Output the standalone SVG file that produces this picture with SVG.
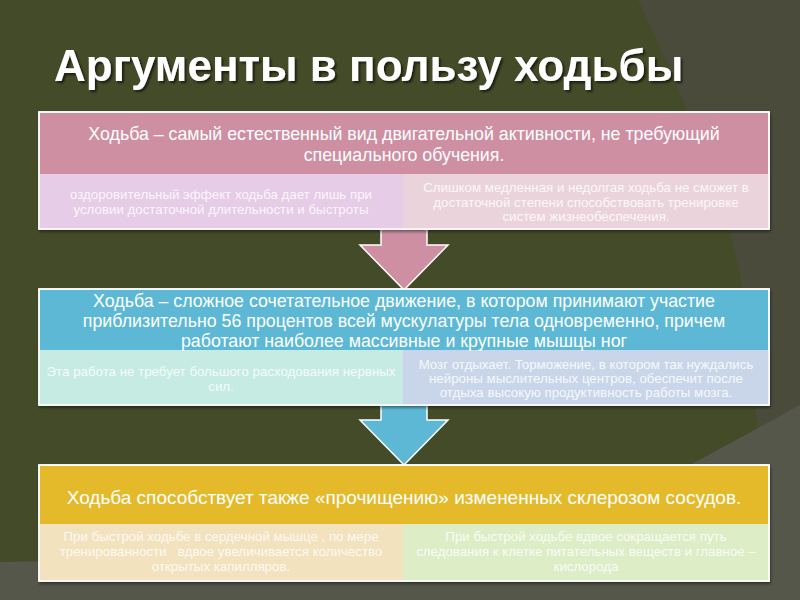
<svg xmlns="http://www.w3.org/2000/svg" width="800" height="600" viewBox="0 0 800 600">
<defs>
<style>
.hd{font-family:"Liberation Sans",Arial,sans-serif;font-size:17.8px;fill:#ffffff;text-anchor:middle}
.hd3{font-size:19px}
.sb{font-family:"Liberation Sans",Arial,sans-serif;font-size:13.3px;fill:#ffffff;fill-opacity:0.85;text-anchor:middle}
.fr{stroke:#ffffff;stroke-width:1.5}
.arr{stroke:#ffffff;stroke-width:1.5;stroke-linejoin:miter}
</style>
<filter id="sh" x="-5%" y="-5%" width="110%" height="115%">
<feDropShadow dx="1" dy="2" stdDeviation="1.5" flood-color="#000" flood-opacity="0.45"/>
</filter>
<filter id="tsh" x="-5%" y="-20%" width="110%" height="140%">
<feDropShadow dx="2" dy="2" stdDeviation="1" flood-color="#000" flood-opacity="0.6"/>
</filter>
</defs>
<rect x="0" y="0" width="800" height="600" fill="#444b28"/>
<path d="M638,0 C690,110 740,230 748,330 C754,430 772,520 792,600 L800,600 L800,0 Z" fill="#4a4b3a"/>
<path d="M0,562 C250,558 520,540 690,465 L800,405 L800,600 L0,600 Z" fill="#55574a"/>
<text x="54" y="81" font-family="'Liberation Sans',Arial,sans-serif" font-size="44" font-weight="bold" fill="#ffffff" filter="url(#tsh)">Аргументы в пользу ходьбы</text>

<g id="connectors">
<polygon class="arr" fill="#ce8fa3" points="381,229 427,229 427,245 448,245 404,290 360,245 381,245"/>
<polygon class="arr" fill="#5cb8d4" points="381,405 427,405 427,420 448,420 404,465 360,420 381,420"/>
</g>

<g id="node1">
<rect x="39" y="112" width="730" height="117" fill="#ce8fa3" class="fr" filter="url(#sh)"/>
<rect x="39" y="174" width="364" height="55" fill="#e6cce6"/>
<rect x="403" y="174" width="366" height="55" fill="#ebd3dc"/>
<rect x="39" y="112" width="730" height="117" fill="none" class="fr"/>
<text class="hd" x="404" y="140">Ходьба – самый естественный вид двигательной активности, не требующий</text>
<text class="hd" x="404" y="161">специального обучения.</text>
<text class="sb" x="221" y="199">оздоровительный эффект ходьба дает лишь при</text>
<text class="sb" x="221" y="214">условии достаточной длительности и быстроты</text>
<text class="sb" x="586" y="192">Слишком медленная и недолгая ходьба не сможет в</text>
<text class="sb" x="586" y="207">достаточной степени способствовать тренировке</text>
<text class="sb" x="586" y="221">систем жизнеобеспечения.</text>
</g>

<g id="node2">
<rect x="39" y="289" width="730" height="116" fill="#5cb8d4" class="fr" filter="url(#sh)"/>
<rect x="39" y="350" width="364" height="55" fill="#c6ebe2"/>
<rect x="403" y="350" width="366" height="55" fill="#c9d6ea"/>
<rect x="39" y="289" width="730" height="116" fill="none" class="fr"/>
<text class="hd" x="404" y="307">Ходьба – сложное сочетательное движение, в котором принимают участие</text>
<text class="hd" x="404" y="327">приблизительно 56 процентов всей мускулатуры тела одновременно, причем</text>
<text class="hd" x="404" y="347">работают наиболее массивные и крупные мышцы ног</text>
<text class="sb" x="221" y="376">Эта работа не требует большого расходования нервных</text>
<text class="sb" x="221" y="391">сил.</text>
<text class="sb" x="586" y="369">Мозг отдыхает. Торможение, в котором так нуждались</text>
<text class="sb" x="586" y="383">нейроны мыслительных центров, обеспечит после</text>
<text class="sb" x="586" y="397">отдыха высокую продуктивность работы мозга.</text>
</g>

<g id="node3">
<rect x="39" y="465" width="730" height="116" fill="#e4ba2a" class="fr" filter="url(#sh)"/>
<rect x="39" y="524" width="364" height="57" fill="#f2e2be"/>
<rect x="403" y="524" width="366" height="57" fill="#ddedc6"/>
<rect x="39" y="465" width="730" height="116" fill="none" class="fr"/>
<text class="hd hd3" x="404" y="504">Ходьба способствует также «прочищению» измененных склерозом сосудов.</text>
<text class="sb" x="221" y="541">При быстрой ходьбе в сердечной мышце , по мере</text>
<text class="sb" x="221" y="556" xml:space="preserve">тренированности   вдвое увеличивается количество</text>
<text class="sb" x="221" y="571">открытых капилляров.</text>
<text class="sb" x="586" y="541">При быстрой ходьбе вдвое сокращается путь</text>
<text class="sb" x="586" y="556">следования к клетке питательных веществ и главное –</text>
<text class="sb" x="586" y="571">кислорода</text>
</g>
</svg>
